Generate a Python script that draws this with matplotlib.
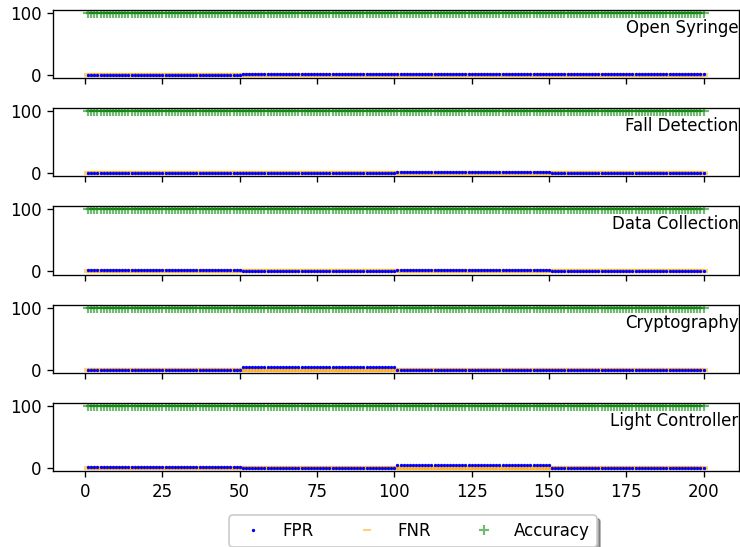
import numpy as np
import matplotlib.pyplot as plt

# one value per block of 50 runs (runs 1-50, 51-100, 101-150, 151-200)
apps = ['Open Syringe', 'Fall Detection', 'Data Collection', 'Cryptography', 'Light Controller']
fpr_blocks = [[0, 2, 2, 2],
              [0, 0, 2, 0],
              [1.5, 0, 1.5, 0],
              [0, 3.5, 0, 0],
              [1.5, 0, 5, 0]]
fnr_blocks = [[0, 0, 0, 0],
              [0, 0, 0, 0],
              [0, 0, 0, 0],
              [0, 0, 0, 0],
              [0, 0, 0.5, 0]]
acc_blocks = [[100, 100, 100, 100],
              [100, 100, 100, 100],
              [100, 100, 100, 100],
              [100, 100, 100, 100],
              [100, 100, 100, 100]]
block_len = 50
runs = np.arange(1, 201)

fig, axes = plt.subplots(5, 1, sharex=True, figsize=(740 / 120, 547 / 120), dpi=120)
plt.subplots_adjust(left=0.072, right=0.998, top=0.982, bottom=0.139, hspace=0.44)

for i, ax in enumerate(axes):
    fpr = np.repeat(fpr_blocks[i], block_len)
    fnr = np.repeat(fnr_blocks[i], block_len)
    acc = np.repeat(acc_blocks[i], block_len)
    ax.plot(runs, fpr, '.', color='blue', markersize=2, zorder=3, label='FPR')
    ax.plot(runs, fnr, '_', color='orange', markersize=5, mew=2.5, alpha=0.5, zorder=2, label='FNR')
    ax.plot(runs, acc, '+', color='green', markersize=6, mew=1.3, alpha=0.55, label='Accuracy')
    ax.set_xlim(-10.3, 211.3)
    ax.set_yticks([0, 100])
    ax.text(1.0, 0.735, apps[i], transform=ax.transAxes, ha='right', va='center', fontsize=10)

axes[-1].set_xticks(np.arange(0, 201, 25))
handles, labels = axes[0].get_legend_handles_labels()
leg = fig.legend(handles, labels, loc='upper center', bbox_to_anchor=(0.558, 0.073), ncol=3,
                 shadow=True, handletextpad=0.8, columnspacing=2.2)
leg.legend_handles[1].set_markeredgewidth(1.2)

plt.savefig('out.png')
